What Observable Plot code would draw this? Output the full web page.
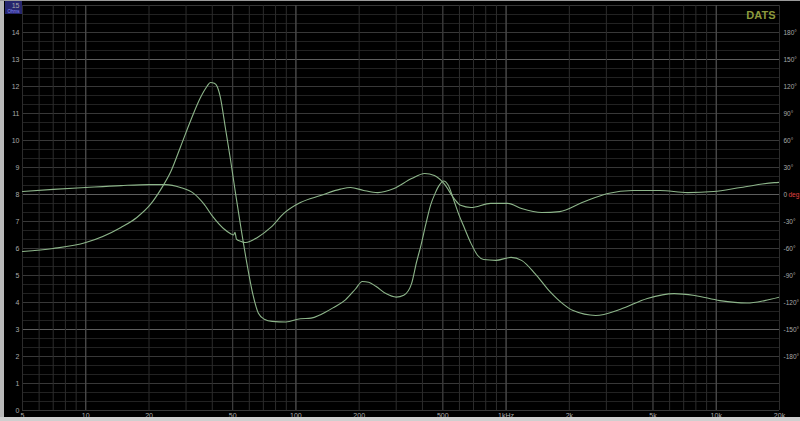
<!DOCTYPE html>
<html>
<head>
<meta charset="utf-8">
<script src="https://cdn.jsdelivr.net/npm/d3@7"></script>
<script src="https://cdn.jsdelivr.net/npm/@observablehq/plot@0.6"></script>
<style>
html, body { margin: 0; padding: 0; background: #000; }
#chart { width: 800px; height: 421px; overflow: hidden; }
</style>
</head>
<body>
<div id="chart"></div>
<script>
// Impedance magnitude (ohms)
const impFreq = [5, 7, 10, 14.7, 17.5, 20.4, 22.8, 25.4, 28.2, 31.6, 35.2, 37.7, 39.2, 40.9, 42.2, 43.7, 46.1, 48.9, 51.6, 54.7, 58.9, 62.4, 66.3, 70.7, 77.2, 89.6, 105, 118, 131, 150, 172, 192, 207, 222, 240, 268, 300, 326, 355, 375, 393, 415, 437, 460, 477, 505, 530, 566, 600, 632, 681, 733, 782, 893, 1056, 1185, 1373, 1601, 1858, 2085, 2670, 3500, 4700, 6300, 7900, 10400, 14000, 17000, 20000];
const impOhm  = [5.89, 6.0, 6.22, 6.78, 7.15, 7.65, 8.2, 8.85, 9.75, 10.75, 11.6, 12.0, 12.15, 12.12, 12.0, 11.6, 10.5, 9.26, 8.04, 6.78, 5.3, 4.3, 3.6, 3.38, 3.3, 3.28, 3.4, 3.42, 3.55, 3.8, 4.1, 4.5, 4.78, 4.75, 4.6, 4.33, 4.2, 4.27, 4.7, 5.5, 6.1, 6.9, 7.6, 8.05, 8.3, 8.5, 8.35, 7.75, 7.2, 6.78, 6.19, 5.74, 5.59, 5.56, 5.67, 5.56, 5.07, 4.44, 3.96, 3.7, 3.52, 3.75, 4.15, 4.33, 4.26, 4.07, 3.98, 4.07, 4.2];

// Phase (degrees)
const phaseFreq = [5, 7, 10, 14.7, 20, 24, 28.2, 32.6, 36.3, 40.5, 45.2, 48.9, 50.5, 51.3, 52.1, 54.7, 57.6, 65.6, 75.9, 87.6, 105, 131, 163, 182, 210, 245, 293, 355, 410, 456, 507, 566, 607, 681, 844, 1020, 1185, 1480, 1800, 2300, 3050, 4000, 5400, 7300, 9700, 13100, 18900, 20000];
const phaseDeg  = [3.3, 5.7, 7.8, 9.9, 11, 11, 7.8, 1.2, -9.9, -25.5, -37.8, -43.5, -45, -42, -49.5, -52, -53.4, -47.7, -36.6, -21, -9, -1.2, 6, 7.8, 4.5, 2.1, 6.6, 17.7, 23.4, 21, 12, -4.5, -12, -14.4, -9.9, -9.9, -15.6, -20, -19, -9, 1.2, 4.5, 4.5, 2.1, 3.3, 7.8, 13.2, 13.5];

// Axis ticks
const freqTicks  = [5, 10, 20, 50, 100, 200, 500, 1000, 2000, 5000, 10000, 20000];
const freqLabels = ["5", "10", "20", "50", "100", "200", "500", "1kHz", "2k", "5k", "10k", "20k"];
const ohmTicks   = [0, 1, 2, 3, 4, 5, 6, 7, 8, 9, 10, 11, 12, 13, 14, 15];
const phaseTicks = [180, 150, 120, 90, 60, 30, 0, -30, -60, -90, -120, -150, -180];
const phaseLabels = ["180°", "150°", "120°", "90°", "60°", "30°", "0", "-30°", "-60°", "-90°", "-120°", "-150°", "-180°"];

const impData = impFreq.map((f, i) => ({f, v: impOhm[i]}));
const phaseData = phaseFreq.map((f, i) => ({f, v: phaseDeg[i]}));
// phase axis: 0° sits at 8 ohm, 30° per ohm division
const phaseToY = p => 8 + p / 30;

// grid
const minorFreq = [];
for (const dec of [1, 10, 100, 1000, 10000]) {
  for (let k = 1; k <= 9; k++) {
    const f = k * dec;
    if (f >= 5 && f <= 20000) minorFreq.push(f);
  }
}
minorFreq.push(20000);
const majorFreq = [10, 100, 1000, 10000];
const midFreq = [50, 500, 5000];
const hGrid = d3.range(0, 46).map(i => i / 3);
const brightH = [3, 8, 13];

const font = "Liberation Sans, Arial, sans-serif";

const plot = Plot.plot({
  width: 800,
  height: 421,
  marginLeft: 22,
  marginRight: 21,
  marginTop: 5,
  marginBottom: 11,
  style: {background: "#000", fontFamily: font},
  x: {type: "log", domain: [5, 20000], axis: null},
  y: {domain: [0, 15], axis: null},
  marks: [
    // horizontal grid
    Plot.ruleY(hGrid, {stroke: "#222", strokeWidth: 1}),
    Plot.ruleY(ohmTicks, {stroke: "#383838", strokeWidth: 1}),
    Plot.ruleY(brightH, {stroke: "#5e5e5e", strokeWidth: 1}),
    // vertical grid
    Plot.ruleX(minorFreq, {stroke: "#2c2c2c", strokeWidth: 1}),
    Plot.ruleX(midFreq, {stroke: "#404040", strokeWidth: 1}),
    Plot.ruleX(majorFreq, {stroke: "#555", strokeWidth: 1}),
    // curves
    Plot.line(phaseData, {x: "f", y: d => phaseToY(d.v), stroke: "#8db58a", strokeWidth: 1.1, curve: "monotone-x", clip: true}),
    Plot.line(impData, {x: "f", y: "v", stroke: "#8db58a", strokeWidth: 1.1, curve: "monotone-x", clip: true}),
    // left axis labels
    Plot.text(ohmTicks, {x: 5, y: d => d, text: d => String(d), dx: -3, textAnchor: "end", fill: "#a8a8a8", fontSize: 7}),
    // right axis labels
    Plot.text(phaseTicks, {x: 20000, y: d => phaseToY(d), text: (d, i) => phaseLabels[i], dx: 4, textAnchor: "start", fill: "#a8a8a8", fontSize: 6.5}),
    Plot.text([0], {x: 20000, y: d => phaseToY(d), text: () => "deg", dx: 9, textAnchor: "start", fill: "#e04040", fontSize: 6.5}),
    // bottom axis labels
    Plot.text(freqTicks, {x: d => d, y: 0, text: (d, i) => freqLabels[i], dy: 3, lineAnchor: "top", fill: "#a8a8a8", fontSize: 7}),
    // brand
    Plot.text(["DATS"], {x: 20000, y: 15, dx: -4, dy: 6, textAnchor: "end", lineAnchor: "top", fill: "#8c9a3c", fontSize: 11, fontWeight: "bold"})
  ]
});

// decorative frame & "Ohms" badge
const svg = d3.select(plot);
svg.insert("rect", ":first-child").attr("x", 0).attr("y", 0).attr("width", 800).attr("height", 421).attr("fill", "#000");
svg.insert("rect", ":nth-child(2)").attr("x", 5).attr("y", 1).attr("width", 17).attr("height", 13).attr("fill", "#26266e");
svg.append("rect").attr("x", 0).attr("y", 0).attr("width", 4).attr("height", 421).attr("fill", "#b8b8b8");
svg.append("rect").attr("x", 0).attr("y", 417).attr("width", 800).attr("height", 4).attr("fill", "#cfcfcf");
svg.append("rect").attr("x", 0).attr("y", 0).attr("width", 800).attr("height", 1).attr("fill", "#9a9a9a");
svg.append("text").attr("x", 13.5).attr("y", 13).attr("text-anchor", "middle").attr("font-size", 4.5).attr("fill", "#8c8cff").attr("font-family", font).text("Ohms");

document.getElementById("chart").appendChild(plot);
</script>
</body>
</html>
